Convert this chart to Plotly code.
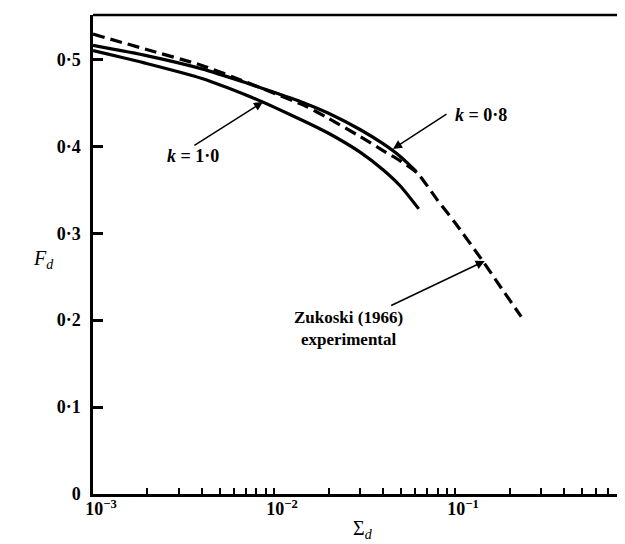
import plotly.graph_objects as go

# ---- data ----
sigma_k10 = [0.001, 0.002, 0.004, 0.007, 0.01, 0.015, 0.02, 0.03, 0.04, 0.05, 0.063]
F_k10 = [0.510, 0.495, 0.478, 0.459, 0.445, 0.428, 0.415, 0.393, 0.373, 0.354, 0.328]

sigma_k08 = [0.001, 0.002, 0.004, 0.007, 0.01, 0.015, 0.02, 0.03, 0.04, 0.05, 0.061]
F_k08 = [0.516, 0.504, 0.489, 0.473, 0.462, 0.449, 0.438, 0.419, 0.403, 0.388, 0.371]

sigma_zuk = [0.001, 0.002, 0.004, 0.007, 0.01, 0.015, 0.02, 0.03, 0.04, 0.05, 0.062,
             0.08, 0.1, 0.14, 0.18, 0.232]
F_zuk = [0.529, 0.511, 0.493, 0.474, 0.461, 0.446, 0.432, 0.411, 0.395, 0.383, 0.369,
         0.338, 0.312, 0.270, 0.237, 0.204]

x_major = [0.001, 0.01, 0.1]
x_major_text = ["10<sup>−3</sup>", "10<sup>−2</sup>", "10<sup>−1</sup>"]
x_minor_digits = [2, 3, 4, 5, 6, 7, 8, 9]
y_ticks = [0, 0.1, 0.2, 0.3, 0.4, 0.5]
y_tick_text = ["0", "0·1", "0·2", "0·3", "0·4", "0·5"]

FONT = "Liberation Serif"
x_minor = [d * m for m in x_major + [1.0] for d in x_minor_digits if d * m < 1.0]

fig = go.Figure()
fig.add_trace(go.Scatter(x=sigma_k10, y=F_k10, mode="lines",
                         line=dict(color="black", width=3.2, shape="spline", smoothing=0.6),
                         name="k = 1.0"))
fig.add_trace(go.Scatter(x=sigma_k08, y=F_k08, mode="lines",
                         line=dict(color="black", width=3.2, shape="spline", smoothing=0.6),
                         name="k = 0.8"))
fig.add_trace(go.Scatter(x=sigma_zuk, y=F_zuk, mode="lines",
                         line=dict(color="black", width=3.2, dash="12px,6px",
                                   shape="spline", smoothing=0.6),
                         name="Zukoski (1966) experimental"))

fig.update_layout(
    width=625, height=544,
    margin=dict(l=85, r=0, t=7, b=58),
    paper_bgcolor="white", plot_bgcolor="white",
    showlegend=False,
    font=dict(family=FONT, color="black", size=18),
)

fig.update_xaxes(
    type="log", range=[-3, -0.017],
    tickmode="array", tickvals=x_major, ticktext=x_major_text,
    ticks="inside", ticklen=6, tickwidth=2, tickcolor="black",
    ticklabelshift=8, ticklabelstandoff=-3,
    tickfont=dict(family=FONT, size=18, color="black", weight="bold"),
    minor=dict(tickmode="array", tickvals=x_minor, ticks="inside", ticklen=6,
               tickwidth=2, tickcolor="black", showgrid=False),
    showline=True, linecolor="black", linewidth=2.5,
    showgrid=False, zeroline=False,
)
fig.update_yaxes(
    range=[0, 0.551],
    tickmode="array", tickvals=y_ticks, ticktext=y_tick_text,
    ticks="inside", ticklen=10, tickwidth=2.5, tickcolor="black",
    ticklabelstandoff=6,
    tickfont=dict(family=FONT, size=18, color="black", weight="bold"),
    showline=True, linecolor="black", linewidth=2.5,
    showgrid=False, zeroline=False,
)

# top frame line
fig.add_shape(type="line", xref="paper", yref="paper", x0=0, x1=1, y0=1, y1=1,
              line=dict(color="black", width=2.5))

# axis titles
fig.add_annotation(text="<i>F</i><sub><i>d</i></sub>", xref="paper", yref="paper",
                   x=-0.115, y=0.49, showarrow=False,
                   font=dict(family=FONT, size=20, color="black"))
fig.add_annotation(text="Σ<sub><i>d</i></sub>", xref="paper", yref="paper",
                   x=0.5, y=-0.074, showarrow=False, yanchor="middle",
                   font=dict(family=FONT, size=20, color="black"))

# labels
fig.add_annotation(text="<i>k</i> = 1·0", x=-2.448, y=0.389, xref="x", yref="y",
                   showarrow=False, font=dict(family=FONT, size=18, color="black", weight="bold"))
fig.add_annotation(text="", x=-2.061, y=0.451, ax=-2.448, ay=0.400,
                   xref="x", yref="y", axref="x", ayref="y",
                   showarrow=True, arrowhead=2, arrowsize=1.2, arrowwidth=1.5,
                   arrowcolor="black")

fig.add_annotation(text="<i>k</i> = 0·8", x=-0.859, y=0.436, xref="x", yref="y",
                   showarrow=False, font=dict(family=FONT, size=18, color="black", weight="bold"))
fig.add_annotation(text="", x=-1.343, y=0.397, ax=-1.039, ay=0.438,
                   xref="x", yref="y", axref="x", ayref="y",
                   showarrow=True, arrowhead=2, arrowsize=1.2, arrowwidth=1.5,
                   arrowcolor="black")

fig.add_annotation(text="Zukoski (1966)<br>experimental", x=-1.591, y=0.190,
                   xref="x", yref="y", showarrow=False,
                   font=dict(family=FONT, size=17, color="black", weight="bold"))
fig.add_annotation(text="", x=-0.836, y=0.268, ax=-1.361, ay=0.216,
                   xref="x", yref="y", axref="x", ayref="y",
                   showarrow=True, arrowhead=2, arrowsize=1.2, arrowwidth=1.5,
                   arrowcolor="black")

fig.write_html("out.html")
